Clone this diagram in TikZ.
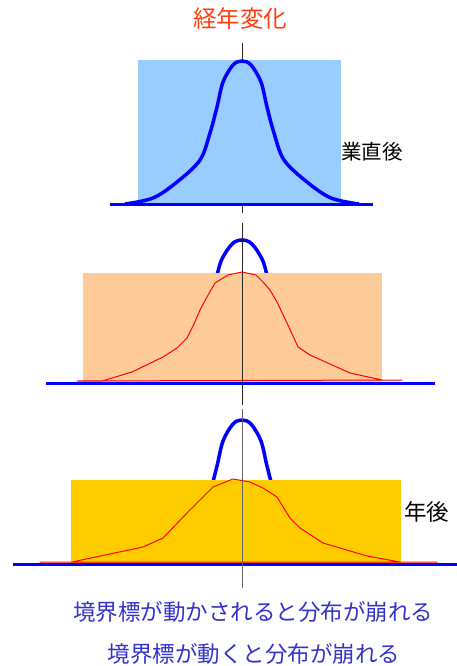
\documentclass[tikz,border=0pt]{standalone}
\usepackage{fontspec}
\newfontfamily\jp{Noto Sans CJK JP}
\definecolor{titlered}{RGB}{255,64,16}
\definecolor{textblue}{RGB}{51,51,204}
\definecolor{lightblue}{RGB}{153,204,255}
\definecolor{peach}{RGB}{255,204,153}
\definecolor{gold}{RGB}{255,204,0}
\definecolor{axisgray}{RGB}{40,40,40}
\tikzset{
  axisline/.style={draw=axisgray, line width=1pt},
  baseline/.style={draw=blue, line width=3pt},
  redcurve/.style={draw=red, line width=1pt, line join=round},
  lbl/.style={font=\jp, inner sep=0pt}
}
\newcommand{\bluebell}{plot[smooth,tension=0.55] coordinates {(-117,0) (-89,-6) (-65,-22) (-42,-44) (-32,-71) (-25,-97) (-19,-122) (-9,-139) (0,-143) (9,-139) (19,-122) (25,-97) (32,-71) (42,-44) (65,-22) (89,-6) (117,0)}}
\begin{document}
\begin{tikzpicture}[x=1pt,y=-1pt]
\useasboundingbox (0,0) rectangle (457,666);
% title
\node[lbl, text=titlered, font=\jp\fontsize{23.5}{26}\selectfont] (title) at (240,19) {経年変化};
% ---------- panel 1 ----------
\coordinate (a1t) at (242,43);
\coordinate (a1b) at (242,213);
\draw[axisline] (a1t) -- (a1b);
\fill[lightblue] (138,60) rectangle (341,204);
\draw[draw=gray, line width=1pt] (138,203) -- (341,203);
\begin{scope}[shift={(242,204)}]
\draw[blue, line width=3.5pt, line join=round] \bluebell;
\end{scope}
\coordinate (b1l) at (110,204);
\coordinate (b1r) at (373,204);
\draw[baseline] (b1l) -- (b1r);
\node[lbl, anchor=west, font=\jp\fontsize{20.5}{24}\selectfont] (l1) at (341,152) {業直後};
% ---------- panel 2 ----------
\begin{scope}
\clip (0,200) rectangle (457,273);
\begin{scope}[shift={(242,383)}, xscale=1.1]
\draw[blue, line width=3.5pt] \bluebell;
\end{scope}
\end{scope}
\fill[peach] (83,273) rectangle (382,382);
\begin{scope}[shift={(242,382)}]
\draw[redcurve] (-165,-1) -- (-140,-1) -- (-110,-10) -- (-79,-25) -- (-65,-34) -- (-55,-44) -- (-48,-58) -- (-42,-72) -- (-35,-85) -- (-27,-99) -- (-14,-107) -- (0,-110) -- (14,-107) -- (21,-100) -- (28,-92) -- (35,-80) -- (45,-59) -- (56,-35) -- (68,-27) -- (108,-9) -- (140,-2) -- (160,-2) -- cycle;
\end{scope}
\coordinate (b2l) at (46,383);
\coordinate (b2r) at (435,383);
\draw[baseline] (b2l) -- (b2r);
\coordinate (a2t) at (242,223);
\coordinate (a2b) at (242,405);
\draw[axisline] (a2t) -- (a2b);
% ---------- panel 3 ----------
\begin{scope}
\clip (0,400) rectangle (457,480);
\begin{scope}[shift={(242,563)}]
\draw[blue, line width=3.5pt] \bluebell;
\end{scope}
\end{scope}
\fill[gold] (71,480) rectangle (401,563);
\begin{scope}[shift={(240,563)}]
\draw[redcurve] (-200,-1) -- (-168,-1) -- (-97,-16) -- (-77,-25) -- (-53,-50) -- (-38,-65) -- (-27,-76) -- (-7,-84) -- (10,-81) -- (23,-75) -- (37,-66) -- (50,-45) -- (60,-35) -- (83,-20) -- (127,-7) -- (160,-1) -- (197,-1) -- cycle;
\end{scope}
\coordinate (b3l) at (13,564);
\coordinate (b3r) at (457,564);
\draw[baseline] (b3l) -- (b3r);
\coordinate (a3t) at (242,409);
\coordinate (a3b) at (242,588);
\draw[axisline, draw=gray!80!black] (a3t) -- (a3b);
\node[lbl, anchor=west, font=\jp\fontsize{22.5}{24}\selectfont] (l3) at (404,512) {年後};
% ---------- bottom texts ----------
\node[lbl, text=textblue, font=\jp\fontsize{22.5}{26}\selectfont] (t1) at (253,612) {境界標が動かされると分布が崩れる};
\node[lbl, text=textblue, font=\jp\fontsize{22.5}{26}\selectfont] (t2) at (254,654) {境界標が動くと分布が崩れる};
\end{tikzpicture}
\end{document}
